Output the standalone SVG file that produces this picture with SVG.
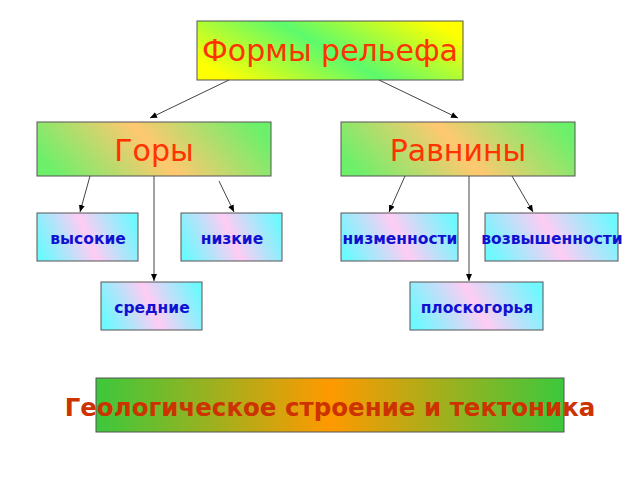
<svg xmlns="http://www.w3.org/2000/svg" width="640" height="480" viewBox="0 0 640 480">
<defs>
<linearGradient id="gTop" x1="0" y1="0.7" x2="1" y2="0.3"><stop offset="0" stop-color="#ffff00"/><stop offset="0.5" stop-color="#5cfa6c"/><stop offset="1" stop-color="#ffff00"/></linearGradient>
<linearGradient id="gMid" x1="0" y1="0.6" x2="1" y2="0.4"><stop offset="0" stop-color="#6cf06a"/><stop offset="0.5" stop-color="#ffc870"/><stop offset="1" stop-color="#6cf06a"/></linearGradient>
<linearGradient id="gLow" x1="0" y1="0.6" x2="1" y2="0.4"><stop offset="0" stop-color="#70f8ff"/><stop offset="0.5" stop-color="#ffccf4"/><stop offset="1" stop-color="#70f8ff"/></linearGradient>
<linearGradient id="gBot" x1="0" y1="0" x2="1" y2="0"><stop offset="0" stop-color="#3cc83c"/><stop offset="0.5" stop-color="#ff9900"/><stop offset="1" stop-color="#3cc83c"/></linearGradient>
<marker id="ar" markerWidth="8" markerHeight="8" refX="7" refY="4" orient="auto" markerUnits="userSpaceOnUse"><path d="M0,1 L7,4 L0,7 z" fill="#000"/></marker>
<style>
.b{stroke:#555;stroke-width:1}
.big{font-family:"DejaVu Sans",sans-serif;font-size:30px;fill:#ff3300;text-anchor:middle}
.sm{font-family:"DejaVu Sans",sans-serif;font-size:15.5px;font-weight:bold;fill:#1010d0;text-anchor:middle}
.c line{stroke:#444;stroke-width:1;marker-end:url(#ar)}
</style>
</defs>
<rect width="640" height="480" fill="#fff"/>
<g id="top"><rect class="b" x="197" y="21" width="266" height="59" fill="url(#gTop)"/><text class="big" x="330" y="61" font-size="32">Формы рельефа</text></g>
<g id="gory"><rect class="b" x="37" y="122" width="234" height="54" fill="url(#gMid)"/><text class="big" x="154" y="161" font-size="32">Горы</text></g>
<g id="ravniny"><rect class="b" x="341" y="122" width="234" height="54" fill="url(#gMid)"/><text class="big" x="458" y="161" font-size="32">Равнины</text></g>
<g id="vysokie"><rect class="b" x="37" y="213" width="101" height="48" fill="url(#gLow)"/><text class="sm" x="88" y="244">высокие</text></g>
<g id="nizkie"><rect class="b" x="181" y="213" width="101" height="48" fill="url(#gLow)"/><text class="sm" x="232" y="244">низкие</text></g>
<g id="srednie"><rect class="b" x="101" y="282" width="101" height="48" fill="url(#gLow)"/><text class="sm" x="152" y="313">средние</text></g>
<g id="nizm"><rect class="b" x="341" y="213" width="117" height="48" fill="url(#gLow)"/><text class="sm" x="400" y="244">низменности</text></g>
<g id="vozv"><rect class="b" x="485" y="213" width="133" height="48" fill="url(#gLow)"/><text class="sm" x="552" y="244">возвышенности</text></g>
<g id="plosk"><rect class="b" x="410" y="282" width="133" height="48" fill="url(#gLow)"/><text class="sm" x="477" y="313">плоскогорья</text></g>
<g id="geo"><rect class="b" x="96" y="378" width="468" height="54" fill="url(#gBot)"/><text x="330" y="416" font-family="DejaVu Sans,sans-serif" font-size="24.5" font-weight="bold" fill="#cc3300" text-anchor="middle">Геологическое строение и тектоника</text></g>
<g class="c" id="connectors">
<line x1="229" y1="80" x2="150" y2="118"/>
<line x1="379" y1="80" x2="458" y2="118"/>
<line x1="90" y1="176" x2="80" y2="212"/>
<line x1="154" y1="176" x2="154" y2="281"/>
<line x1="219" y1="181" x2="234" y2="212"/>
<line x1="405" y1="176" x2="389" y2="212"/>
<line x1="469" y1="176" x2="469" y2="281"/>
<line x1="512" y1="176" x2="533" y2="212"/>
</g>
</svg>
